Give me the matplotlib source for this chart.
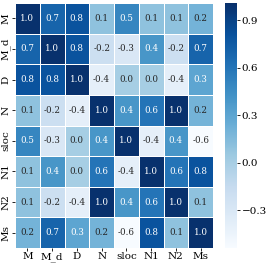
import numpy as np
import matplotlib
matplotlib.use("Agg")
import matplotlib.pyplot as plt
import seaborn as sns

labels = ["M", "M_d", "D", "N", "sloc", "N1", "N2", "Ms"]
corr = [
    [1.0, 0.7, 0.8, 0.1, 0.5, 0.1, 0.1, 0.2],
    [0.7, 1.0, 0.8, -0.2, -0.3, 0.4, -0.2, 0.7],
    [0.8, 0.8, 1.0, -0.4, 0.0, 0.0, -0.4, 0.3],
    [0.1, -0.2, -0.4, 1.0, 0.4, 0.6, 1.0, 0.2],
    [0.5, -0.3, 0.0, 0.4, 1.0, -0.4, 0.4, -0.6],
    [0.1, 0.4, 0.0, 0.6, -0.4, 1.0, 0.6, 0.8],
    [0.1, -0.2, -0.4, 1.0, 0.4, 0.6, 1.0, 0.1],
    [0.2, 0.7, 0.3, 0.2, -0.6, 0.8, 0.1, 1.0],
]
cbar_ticks = [-0.3, 0.0, 0.3, 0.6, 0.9]

plt.rcParams['font.family'] = ['DejaVu Serif']
W, H = 266, 264
fig = plt.figure(figsize=(W / 100, H / 100), dpi=100)
ax = fig.add_axes([15 / W, (H - 248) / H, 198 / W, 245 / H])
cax = fig.add_axes([225 / W, (H - 248) / H, 12.5 / W, 245 / H])

sns.heatmap(np.array(corr), ax=ax, cbar_ax=cax, cmap="Blues", vmin=-0.54, vmax=1.01,
            annot=True, fmt=".1f", annot_kws={"size": 6.3},
            linewidths=0.5, linecolor="white",
            xticklabels=labels, yticklabels=labels,
            cbar_kws={"ticks": cbar_ticks})
ax.tick_params(axis='both', labelsize=7.5, length=2, width=0.6, pad=1)
ax.set_yticklabels(labels, rotation=90, va='center')
ax.set_xticklabels(labels, rotation=0)
cax.tick_params(labelsize=7.5, length=2, width=0.6, pad=1)
cax.set_yticklabels(["\u22120.3", "0.0", "0.3", "0.6", "0.9"])
for s in cax.spines.values():
    s.set_visible(False)

fig.savefig("out.png", dpi=100)
